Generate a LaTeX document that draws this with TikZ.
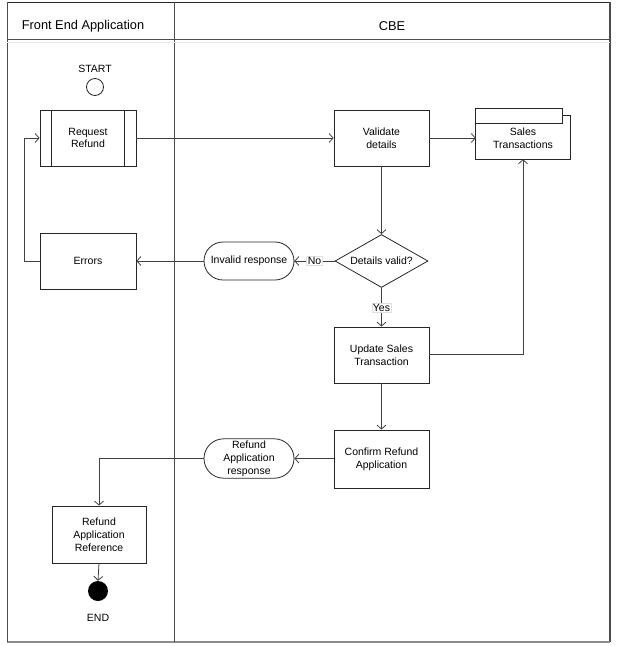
\documentclass[tikz,border=0pt]{standalone}
\usepackage{fontspec}
\setmainfont{Liberation Sans}
\usetikzlibrary{arrows.meta,shapes.geometric,shapes.misc}
\begin{document}
\begin{tikzpicture}[x=1pt,y=-1pt,
  txt/.style={font=\fontsize{10.5}{12.8}\selectfont},
  box/.style={txt, rectangle, draw=black!85, line width=0.8pt, minimum width=95pt,
    minimum height=56pt, align=center, inner sep=2pt},
  term/.style={txt, rounded rectangle, draw=black!85, line width=0.8pt,
    minimum width=94pt, minimum height=38pt, align=center, inner sep=2pt},
  decision/.style={txt, diamond, aspect=1.8, draw=black!85, line width=0.8pt, minimum width=93pt,
    minimum height=53pt, inner sep=0pt, align=center},
  flow/.style={draw=black!75, line width=0.8pt, -{Straight Barb[length=4pt,width=9pt]}},
  plain/.style={draw=black!75, line width=0.8pt},
  lbl/.style={txt, fill=white, draw=black!12, inner sep=1pt},
  header/.style={font=\fontsize{12.8}{15}\selectfont}
]
\useasboundingbox (0,0) rectangle (619,646);

% swimlane frame
\draw[line width=0.8pt, draw=black!85] (7,2) -- (610,2);
\draw[line width=1.2pt, draw=black!70] (610,2) -- (610,642);
\draw[line width=1.2pt, draw=black!45] (7,642) -- (610,642);
\draw[line width=0.8pt, draw=black!70] (7,2) -- (7,642);
\draw[line width=0.8pt, draw=black!70] (174,2) -- (174,642);
\draw[line width=0.8pt, draw=black!70] (7,39) -- (610,39);
\draw[line width=1.5pt, draw=black!8] (7,42.5) -- (610,42.5);

\node[header] (laneA) at (83,26) {Front End Application};
\node[header] (laneB) at (392,26) {CBE};

% front end lane
\node[txt] (startlbl) at (95,69) {START};
\node[circle, draw=black!85, line width=0.8pt, minimum size=17pt, inner sep=0pt] (start) at (95,87) {};
\node[box, minimum width=96pt] (req) at (88,138) {Request\\Refund};
\draw[line width=0.8pt, draw=black!85] ([xshift=12pt]req.north west) -- ([xshift=12pt]req.south west);
\draw[line width=0.8pt, draw=black!85] ([xshift=-12pt]req.north east) -- ([xshift=-12pt]req.south east);
\node[box, minimum width=96pt] (err) at (88,261) {Errors};
\node[box, minimum width=94pt, minimum height=57pt] (ref) at (99,534.5) {Refund\\Application\\Reference};
\node[circle, fill=black, minimum size=20pt, inner sep=0pt] (end) at (98,591) {};
\node[txt] (endlbl) at (98,618) {END};

% CBE lane
\node[box] (val) at (381.5,138) {Validate\\details};
\node (st) at (523,134) [minimum width=94pt, minimum height=50pt, inner sep=0pt] {};
\draw[line width=0.8pt, draw=black!85]
  (st.north west) -- ([xshift=-8pt]st.north east) -- ([xshift=-8pt,yshift=-7pt]st.north east)
  -- ([yshift=-7pt]st.north east) -- (st.south east) -- (st.south west) -- cycle;
\draw[line width=0.8pt, draw=black!85]
  ([yshift=-15pt]st.north west) -- ([xshift=-8pt,yshift=-15pt]st.north east) -- ([xshift=-8pt]st.north east);
\node[txt, align=center] (sttext) at (523,138) {Sales\\Transactions};
\node[decision] (dec) at (381.5,261) {Details valid?};
\node[term] (inv) at (249,261) {Invalid response};
\node[box] (upd) at (381.5,355) {Update Sales\\Transaction};
\node[box, minimum height=58pt] (conf) at (381.5,459) {Confirm Refund\\Application};
\node[term, minimum height=39pt] (resp) at (249,458.5) {Refund\\Application\\response};

% connectors
\draw[flow] (req.east) -- (val.west);
\draw[flow] (val.east) -- (val.east -| st.west);
\draw[flow] (val.south) -- (dec.north);
\draw[plain] (dec.west) -- (inv.east) node[lbl, pos=0.5] (no) {No};
\draw[flow] (no.west) -- (inv.east);
\draw[flow] (inv.west) -- (err.east);
\draw[flow] (err.west) -- (24,261) -- (24,138) -- (req.west);
\draw[flow] (dec.south) -- (upd.north) node[lbl, pos=0.52] (yes) {Yes};
\draw[flow] (upd.east |- 0,354) -- (523,354) -- (st.south);
\draw[flow] (upd.south) -- (conf.north);
\draw[flow] (conf.west |- resp.east) -- (resp.east);
\draw[flow] (resp.west) -| (ref.north);
\draw[flow] (ref.south) -- (end.north);
\end{tikzpicture}
\end{document}
